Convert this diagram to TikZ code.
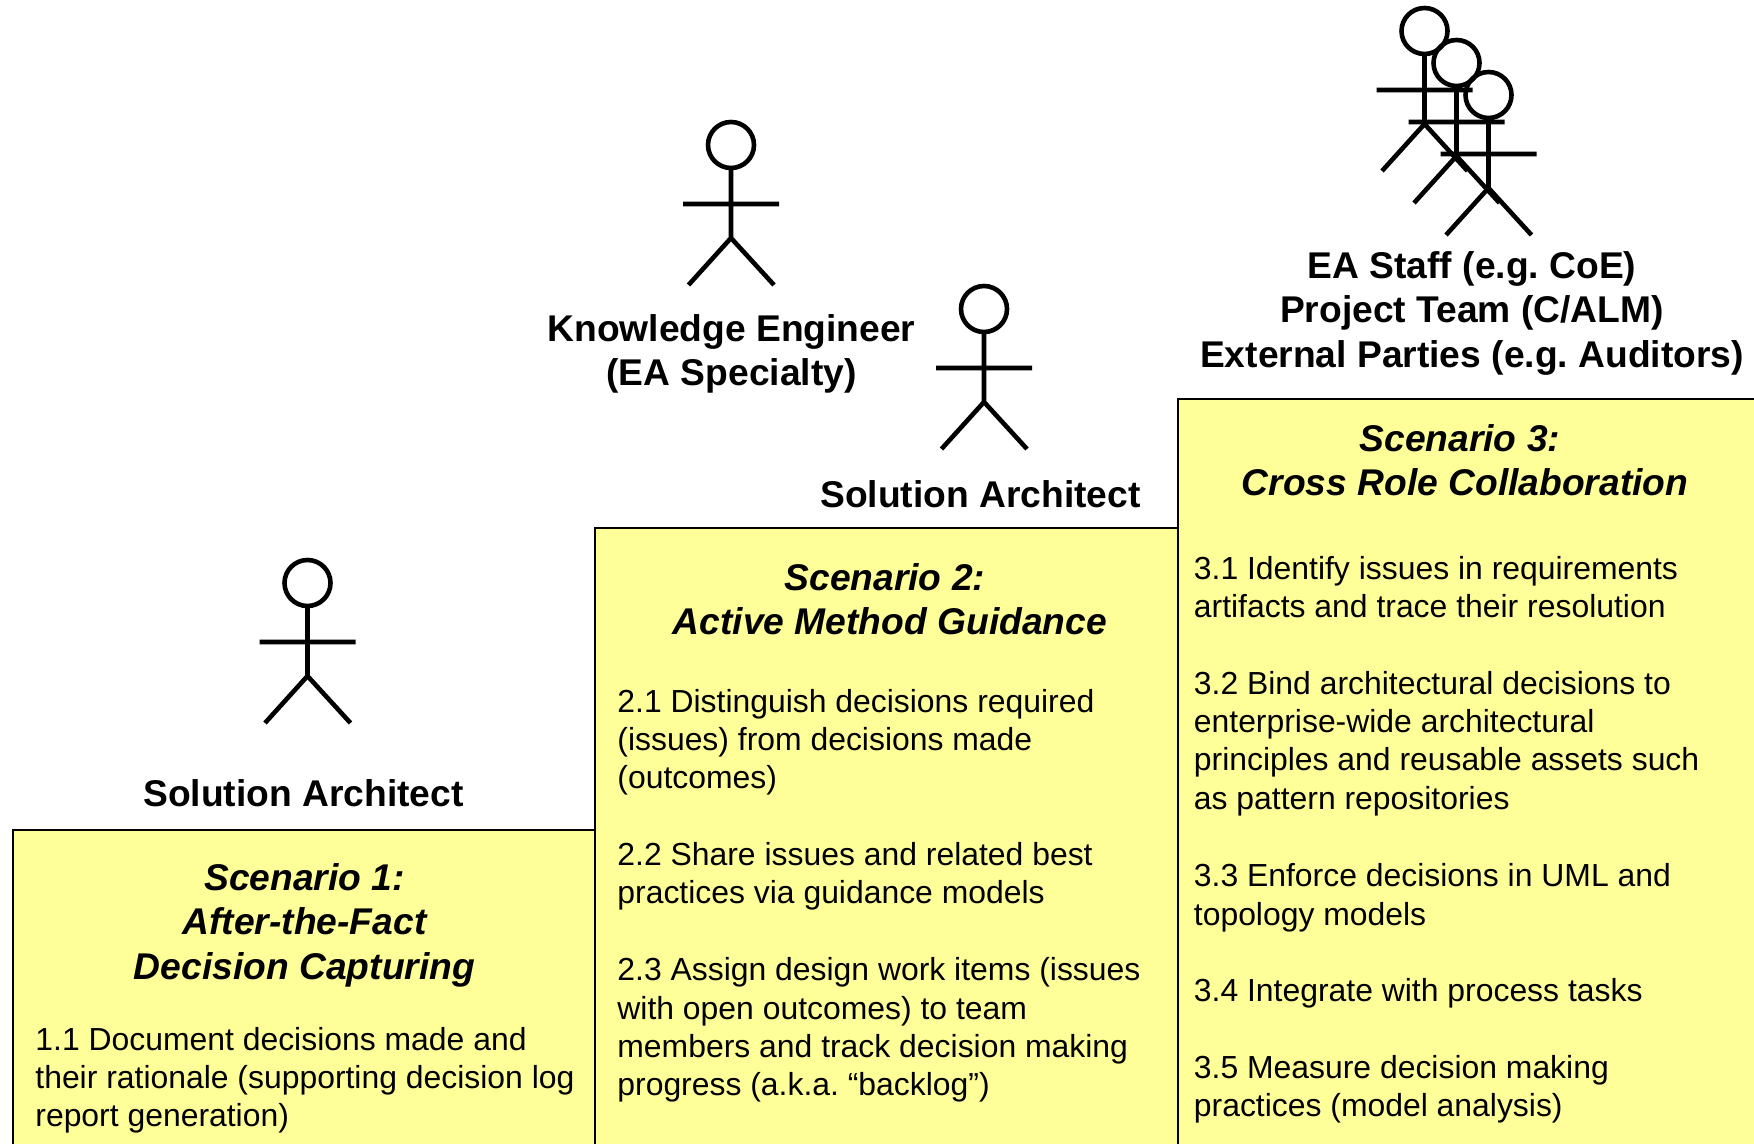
\documentclass[tikz,border=0pt]{standalone}
\usepackage{fontspec}
\setmainfont{Liberation Sans}
\frenchspacing
\definecolor{boxyellow}{HTML}{FFFF99}
\tikzset{
  px/.style={x=0.5pt,y=-0.5pt},
  scenariobox/.style={draw=black,fill=boxyellow,line width=1.4pt},
  txt/.style={inner sep=0pt,yshift=14pt,execute at begin node={\rule{0pt}{14pt}}},
  body/.style={txt,anchor=north west,align=left,font=\fontsize{15.95}{19.1}\selectfont},
  titletxt/.style={txt,anchor=north,align=center,font=\fontsize{18.6}{22.3}\selectfont\bfseries\itshape},
  rolelabel/.style={txt,anchor=north,align=center,font=\fontsize{18.6}{22.3}\selectfont\bfseries},
  actor/.pic={
    \draw[line width=2.3pt] (0,-93) circle[radius=23];
    \draw[line width=2.3pt] (0,-70) -- (0,0) (-48,-34) -- (48,-34) (-42.5,47) -- (0,0) -- (43,47);
  }
}
\begin{document}
\begin{tikzpicture}[px]
\clip (0,0) rectangle (1754,1144);
\fill[white] (0,0) rectangle (1754,1144);
\draw[scenariobox] (13,830) rectangle (595,1160);
\draw[scenariobox] (595,528) rectangle (1178,1160);
\draw[scenariobox] (1178,399) rectangle (1770,1160);

\pic at (307.5,676) {actor};
\pic at (731,238) {actor};
\pic at (984,402) {actor};
\pic at (1424.5,124) {actor};
\pic at (1456.5,156) {actor};
\pic at (1488.5,188) {actor};

\node[rolelabel] (role1) at (303.5,806) {Solution Architect};
\node[rolelabel] (role2a) at (731.5,342) {Knowledge Engineer\\(EA Specialty)};
\node[rolelabel] (role2b) at (980.5,507) {Solution Architect};
\node[rolelabel] (role3) at (1472,279) {EA Staff (e.g. CoE)\\Project Team (C/ALM)\\External Parties (e.g. Auditors)};

\node[titletxt] (title1) at (304.5,891) {Scenario 1:\\After-the-Fact\\Decision Capturing};
\node[titletxt] (title2) at (890,591) {Scenario 2:\hspace*{.278em}\\Active Method Guidance};
\node[titletxt] (title3) at (1465,452) {Scenario 3:\hspace*{.278em}\\Cross Role Collaboration};

\node[body] (s11) at (35,1054.6) {1.1 Document decisions made and\\their rationale (supporting decision log\\report generation)};

\node[body] (s21) at (617,716.6) {2.1 Distinguish decisions required\\(issues) from decisions made\\(outcomes)};
\node[body] (s22) at (617,870.1) {2.2 Share issues and related best\\practices via guidance models};
\node[body] (s23) at (617,985.3) {2.3 Assign design work items (issues\\with open outcomes) to team\\members and track decision making\\progress (a.k.a. “backlog”)};

\node[body] (s31) at (1193.5,583.6) {3.1 Identify issues in requirements\\artifacts and trace their resolution};
\node[body] (s32) at (1193.5,698.9) {3.2 Bind architectural decisions to\\enterprise-wide architectural\\principles and reusable assets such\\as pattern repositories};
\node[body] (s33) at (1193.5,891.3) {3.3 Enforce decisions in UML and\\topology models};
\node[body] (s34) at (1193.5,1001) {3.4 Integrate with process tasks};
\node[body] (s35) at (1193.5,1082.6) {3.5 Measure decision making\\practices (model analysis)};
\end{tikzpicture}
\end{document}
